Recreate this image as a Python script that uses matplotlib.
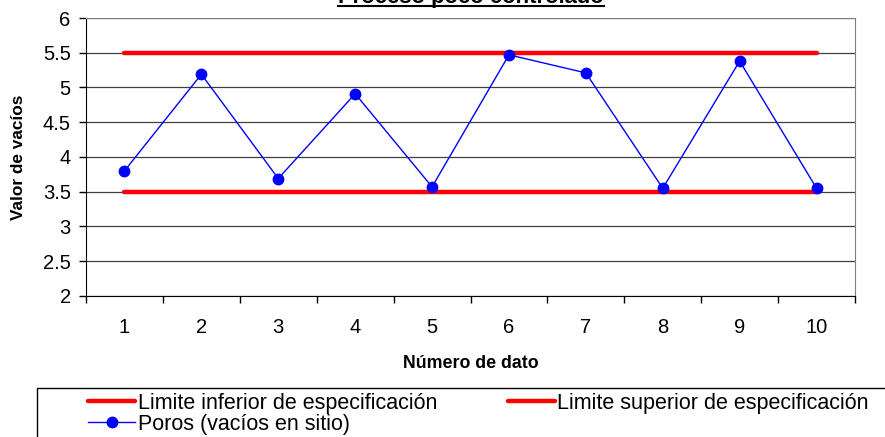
import numpy as np
import matplotlib.pyplot as plt
from matplotlib.lines import Line2D
from matplotlib.patches import Rectangle

plt.rcParams['font.family'] = ['Liberation Sans', 'DejaVu Sans']

# --- Data ---
dato = [1, 2, 3, 4, 5, 6, 7, 8, 9, 10]
poros = [3.80, 5.19, 3.69, 4.91, 3.57, 5.47, 5.21, 3.55, 5.38, 3.55]
lim_inf = [3.5] * 10
lim_sup = [5.5] * 10
titulo = 'Proceso poco controlado'

fig = plt.figure(figsize=(8.85, 4.37), dpi=100)
ax = fig.add_axes([0.0972, 0.3227, 0.8689, 0.6361])

ax.plot(dato, lim_inf, color='#ff0000', lw=3.2, solid_capstyle='round',
        label='Limite inferior de especificación', zorder=3)
ax.plot(dato, poros, color='#0000ff', lw=1, marker='o', markersize=7.5,
        label='Poros (vacíos en sitio)', zorder=4)
ax.plot(dato, lim_sup, color='#ff0000', lw=3.2, solid_capstyle='round',
        label='Limite superior de especificación', zorder=3)

# --- Axes ---
ax.set_xlim(0.5, 10.5)
ax.set_ylim(2, 6)
ax.set_yticks(np.arange(2, 6.01, 0.5))
ax.set_yticklabels(['2', '2.5', '3', '3.5', '4', '4.5', '5', '5.5', '6'])
ax.set_xticks(np.arange(0.5, 10.6, 1))
ax.set_xticklabels([])
ax.set_xticks(dato, minor=True)
ax.set_xticklabels([str(d) for d in dato], minor=True)
ax.tick_params(axis='x', which='major', direction='out', length=5, width=1)
ax.tick_params(axis='x', which='minor', length=0, pad=16, labelsize=14.5)
ax.tick_params(axis='y', direction='out', length=5, width=1, labelsize=14.5, pad=6)

ax.grid(axis='y', color='#404040', lw=0.9)
ax.set_axisbelow(True)
ax.spines['top'].set_color('#808080')
ax.spines['right'].set_color('#808080')

ax.set_xlabel('Número de dato', fontsize=12.8, fontweight='bold', labelpad=13)
ax.set_ylabel('Valor de vacíos', fontsize=12.4, fontweight='bold', labelpad=12)

# --- Legend (frame drawn separately, it runs off the right edge) ---
fig.add_artist(Rectangle((37 / 885, -0.05), 0.97, 0.05 + 49 / 437,
                         transform=fig.transFigure, fill=False,
                         edgecolor='black', lw=1))
leg = fig.legend(loc='upper left', bbox_to_anchor=(88 / 885, 1 - 393 / 437),
                 ncol=2, fontsize=15.5, frameon=False, handlelength=2.2,
                 handletextpad=0.1, columnspacing=3.3, labelspacing=0.0,
                 borderpad=0, borderaxespad=0)

# --- Title (underlined, cut at the top edge) ---
t = fig.text(0.532, 0.993, titulo, ha='center', va='baseline',
             fontsize=15.8, fontweight='bold')
fig.canvas.draw()
bb = t.get_window_extent().transformed(fig.transFigure.inverted())
fig.add_artist(Line2D([bb.x0, bb.x1], [0.9874, 0.9874], color='black', lw=1.5,
                      transform=fig.transFigure))

fig.savefig('out.png', dpi=100)
